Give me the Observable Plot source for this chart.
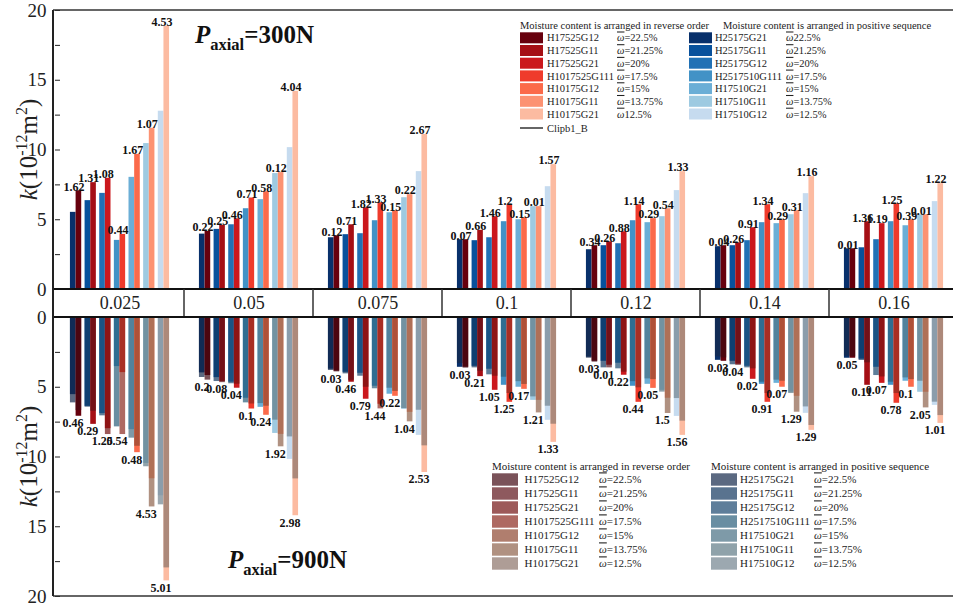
<!DOCTYPE html>
<html>
<head>
<meta charset="utf-8">
<script src="https://cdn.jsdelivr.net/npm/d3@7"></script>
<script src="https://cdn.jsdelivr.net/npm/@observablehq/plot@0.6"></script>
<style>
  html, body { margin: 0; background: #fff; overflow: hidden; }
  #chart { width: 953px; }
  #chart svg { display: block; overflow: visible; }
</style>
</head>
<body>
<div id="chart"></div>
<script>
// Loading ranges (shared category axis)
const ranges = ["0.025", "0.05", "0.075", "0.1", "0.12", "0.14", "0.16"];

// Specimens
const reverseNames = ["H17525G12", "H17525G11", "H17525G21", "H1017525G111", "H10175G12", "H10175G11", "H10175G21"];
const positiveNames = ["H25175G21", "H25175G11", "H25175G12", "H2517510G111", "H17510G21", "H17510G11", "H17510G12"];
const moisture300Reverse = ["=22.5%", "=21.25%", "=20%", "=17.5%", "=15%", "=13.75%", "12.5%"];
const moisture300Positive = ["22.5%", "21.25%", "=20%", "=17.5%", "=15%", "=13.75%", "=12.5%"];
const moisture900 = ["=22.5%", "=21.25%", "=20%", "=17.5%", "=15%", "=13.75%", "=12.5%"];

// Permeability k (1e-12 m^2), one row per range, seven specimens per row
const kBlue300 = [
  [5.53, 6.37, 6.89, 3.52, 8.04, 10.46, 12.78],
  [3.97, 4.31, 4.64, 5.79, 6.44, 8.31, 10.17],
  [3.71, 3.93, 4.00, 4.93, 5.50, 6.58, 8.45],
  [3.57, 3.50, 3.71, 4.86, 5.00, 5.94, 7.37],
  [2.85, 3.14, 3.28, 4.93, 4.79, 5.22, 7.09],
  [3.07, 3.14, 3.50, 4.79, 4.72, 5.36, 6.87],
  [2.92, 2.99, 3.57, 4.86, 4.57, 5.36, 6.30]
];
const kRed300 = [
  [7.08, 7.66, 7.97, 3.95, 9.69, 11.56, 18.88],
  [4.16, 4.60, 5.07, 6.56, 7.01, 8.38, 14.21],
  [3.85, 4.64, 5.86, 6.22, 5.65, 6.80, 11.11],
  [3.57, 4.24, 5.22, 6.08, 5.15, 5.94, 8.95],
  [3.14, 3.42, 4.14, 6.08, 5.08, 5.79, 8.45],
  [3.14, 3.35, 4.43, 6.08, 5.00, 5.65, 8.09],
  [2.92, 4.86, 4.72, 6.15, 5.00, 5.36, 7.59]
];
const kBlue900 = [
  [6.12, 6.43, 7.05, 7.84, 8.65, 10.70, 13.43],
  [4.30, 4.59, 4.75, 6.12, 6.17, 7.36, 8.56],
  [3.80, 4.04, 4.21, 5.11, 5.07, 6.53, 6.65],
  [3.30, 3.61, 4.11, 4.28, 4.60, 5.69, 6.36],
  [2.92, 3.61, 3.68, 4.60, 4.40, 5.35, 5.81],
  [2.82, 3.39, 3.61, 4.64, 4.49, 5.45, 6.41],
  [2.77, 3.08, 4.16, 4.64, 4.33, 4.57, 6.07]
];
const kRed900 = [
  [6.67, 6.72, 8.39, 8.39, 9.23, 13.58, 17.95],
  [4.49, 4.67, 4.78, 6.20, 6.36, 9.27, 11.57],
  [3.90, 4.50, 5.00, 6.55, 5.30, 7.48, 9.20],
  [3.63, 3.85, 4.21, 5.45, 4.80, 6.84, 7.65],
  [3.20, 3.61, 3.92, 5.04, 4.45, 6.88, 7.43],
  [2.90, 3.43, 3.68, 5.45, 4.57, 6.79, 7.74],
  [2.82, 3.25, 4.26, 5.45, 4.45, 6.48, 7.03]
];

// Printed differences between the paired specimens
const gap300 = [
  [1.62, 1.31, 1.08, 0.44, 1.67, 1.07, 4.53],
  [0.22, 0.25, 0.46, 0.71, 0.58, 0.12, 4.04],
  [0.12, 0.71, 1.82, 1.33, 0.15, 0.22, 2.67],
  [0.07, 0.66, 1.46, 1.2, 0.15, 0.01, 1.57],
  [0.34, 0.26, 0.88, 1.14, 0.29, 0.54, 1.33],
  [0.04, 0.26, 0.91, 1.34, 0.29, 0.31, 1.16],
  [0.01, 1.36, 1.19, 1.25, 0.39, 0.01, 1.22]
];
const gap900 = [
  [0.46, 0.29, 1.25, 0.54, 0.48, 4.53, 5.01],
  [0.2, 0.08, 0.04, 0.1, 0.24, 1.92, 2.98],
  [0.03, 0.46, 0.79, 1.44, 0.22, 1.04, 2.53],
  [0.03, 0.21, 1.05, 1.25, 0.17, 1.21, 1.33],
  [0.03, 0.01, 0.22, 0.44, 0.05, 1.5, 1.56],
  [0.03, 0.04, 0.02, 0.91, 0.07, 1.29, 1.29],
  [0.05, 0.11, 0.07, 0.78, 0.1, 2.05, 1.01]
];

// Palettes
const reds = ["#67000d", "#a50f15", "#cb181d", "#ef3b2c", "#fb6a4a", "#fc9272", "#fcbba1"];
const blues = ["#08306b", "#08519c", "#2171b5", "#4292c6", "#6baed6", "#9ecae1", "#c6dbef"];
const reds900 = ["#410812", "#5e1319", "#741313", "#8b2a1f", "#8e4730", "#8e634c", "#8b7469"];
const blues900 = ["#162a4c", "#133860", "#19476f", "#2a5e7a", "#476f83", "#607a86", "#72838e"];
const overlayOpacity = 0.7;

// Layout
const W = 953, left = 53, right = 960;
const pairInner = 0.23, pairOuter = 1.02;
const bandW = (right - left) / ranges.length;
const pairStep = bandW / (7 - pairInner + 2 * pairOuter);
const half = pairStep * (1 - pairInner) / 2;
const serif = "'Liberation Serif', 'Times New Roman', serif";

const rows = ranges.flatMap((r, i) => d3.range(7).map(j => ({
  range: r, pair: j,
  b300: kBlue300[i][j], r300: kRed300[i][j],
  b900: kBlue900[i][j], r900: kRed900[i][j],
  g300: gap300[i][j], g900: gap900[i][j]
})));

const common = {
  width: W,
  marginLeft: left,
  marginRight: W - right,
  style: {fontFamily: serif, fontSize: "18px", color: "#222", background: "transparent", overflow: "visible"},
  x: {domain: d3.range(7), paddingInner: pairInner, paddingOuter: pairOuter, axis: null, round: false},
  color: {type: "identity"}
};

// 300 N panel
const topPlot = Plot.plot({
  ...common,
  height: 316,
  marginTop: 10,
  marginBottom: 27,
  fx: {domain: ranges, padding: 0, label: null},
  y: {domain: [0, 20], label: null},
  marks: [
    Plot.barY(rows, {fx: "range", x: "pair", y1: 0, y2: "b300", fill: d => blues[d.pair], insetRight: half}),
    Plot.barY(rows, {fx: "range", x: "pair", y1: 0, y2: "r300", fill: d => reds[d.pair], insetLeft: half}),
    Plot.text(rows, {fx: "range", x: "pair", y: d => Math.max(d.b300, d.r300), text: d => String(d.g300),
      dy: -4, dx: -2, fontSize: 12, fontWeight: "bold", fill: "#111"}),
    Plot.axisY({ticks: [0, 5, 10, 15, 20], tickSize: 0, tickPadding: 9, fontSize: 19, label: null}),
    Plot.axisY({ticks: d3.range(0, 20.01, 2.5), tickSize: -5, tickFormat: () => "", label: null}),
    Plot.axisFx({anchor: "bottom", tickSize: 0, tickPadding: 7, fontSize: 18, label: null})
  ]
});

// 900 N panel (values grow downward)
const bottomPlot = Plot.plot({
  ...common,
  height: 289,
  marginTop: 1,
  marginBottom: 9,
  fx: {domain: ranges, padding: 0, label: null, axis: null},
  y: {domain: [0, 20], reverse: true, label: null},
  marks: [
    Plot.barY(rows, {fx: "range", x: "pair", y1: 0, y2: "b300", fill: d => blues[d.pair], insetRight: half}),
    Plot.barY(rows, {fx: "range", x: "pair", y1: 0, y2: "b900", fill: d => blues900[d.pair], fillOpacity: overlayOpacity, insetRight: half}),
    Plot.barY(rows, {fx: "range", x: "pair", y1: 0, y2: "r300", fill: d => reds[d.pair], insetLeft: half}),
    Plot.barY(rows, {fx: "range", x: "pair", y1: 0, y2: "r900", fill: d => reds900[d.pair], fillOpacity: overlayOpacity, insetLeft: half}),
    Plot.text(rows, {fx: "range", x: "pair", y: d => Math.max(d.b300, d.r300, d.b900, d.r900), text: d => String(d.g900),
      dy: 7, dx: -3, fontSize: 12, fontWeight: "bold", fill: "#111"}),
    Plot.axisY({ticks: [0, 5, 10, 15, 20], tickSize: 0, tickPadding: 9, fontSize: 19, label: null}),
    Plot.axisY({ticks: d3.range(0, 20.01, 2.5), tickSize: -5, tickFormat: () => "", label: null})
  ]
});

const chart = document.getElementById("chart");
chart.append(topPlot, bottomPlot);

function line(sel, x1, y1, x2, y2, stroke, w) {
  sel.append("line").attr("x1", x1).attr("y1", y1).attr("x2", x2).attr("y2", y2)
    .attr("stroke", stroke).attr("stroke-width", w);
}

function yLabel(svg, cx, cy) {
  const t = d3.select(svg).append("text")
    .attr("transform", `translate(${cx},${cy}) rotate(-90)`)
    .attr("text-anchor", "middle").attr("font-family", serif)
    .attr("font-size", 25).attr("fill", "#222");
  t.append("tspan").attr("font-style", "italic").text("k");
  t.append("tspan").text("(10");
  t.append("tspan").attr("font-size", 16).attr("dy", -10).text("-12");
  t.append("tspan").attr("dy", 10).text("m");
  t.append("tspan").attr("font-size", 16).attr("dy", -10).text("2");
  t.append("tspan").attr("dy", 10).text(")");
}

function title(svg, x, y, load) {
  const t = d3.select(svg).append("text").attr("x", x).attr("y", y).attr("text-anchor", "start")
    .attr("font-family", serif).attr("font-weight", "bold").attr("font-size", 25).attr("fill", "#111");
  t.append("tspan").attr("font-style", "italic").text("P");
  t.append("tspan").attr("font-size", 16.5).attr("dy", 7).text("axial");
  t.append("tspan").attr("dy", -7).text("=" + load);
}

function legendColumn(svg, o) {
  const g = d3.select(svg).append("g").attr("font-family", serif).attr("font-size", o.fontSize)
    .attr("fill", "#222").attr("text-anchor", "start");
  g.append("text").attr("x", o.headerX).attr("y", o.headerY).text(o.header);
  o.names.forEach((name, i) => {
    const cy = o.rowY + i * o.pitch;
    g.append("rect").attr("x", o.swX).attr("y", cy - o.swH / 2).attr("width", o.swW).attr("height", o.swH)
      .attr("fill", o.fills[i]).attr("fill-opacity", o.opacity);
    g.append("text").attr("x", o.nameX).attr("y", cy + o.fontSize * 0.35).text(name);
    const w = g.append("text").attr("x", o.omegaX).attr("y", cy + o.fontSize * 0.35);
    w.append("tspan").attr("text-decoration", "overline").attr("font-style", "italic").text("ω");
    w.append("tspan").text(o.moist[i]);
  });
}

// Frame and category band
{
  const svg = d3.select(topPlot);
  const fx = topPlot.scale("fx");
  const y = topPlot.scale("y");
  const g = svg.append("g");
  line(g, left, y.apply(20), W, y.apply(20), "#333", 1.5);
  line(g, left, y.apply(0), W, y.apply(0), "#111", 2);
  line(g, left, y.apply(20), left, 316, "#222", 2);
  ranges.slice(1).forEach(r => line(g, fx.apply(r), y.apply(0), fx.apply(r), 316, "#333", 1.5));
  yLabel(topPlot, 37, (y.apply(0) + y.apply(20)) / 2);
  title(topPlot, 195, 43, "300N");
  const base = {fontSize: 10.5, rowY: 37.8, pitch: 12.7, swW: 23, swH: 11, headerY: 29};
  legendColumn(topPlot, {...base, header: "Moisture content is arranged in reverse order", headerX: 520,
    swX: 520, nameX: 547, omegaX: 617, names: reverseNames, moist: moisture300Reverse, fills: reds, opacity: 1});
  legendColumn(topPlot, {...base, header: "Moisture content is arranged in positive sequence", headerX: 723,
    swX: 689, nameX: 715, omegaX: 786, names: positiveNames, moist: moisture300Positive, fills: blues, opacity: 1});
  const cg = svg.append("g").attr("font-family", serif).attr("font-size", 10.5).attr("fill", "#222").attr("text-anchor", "start");
  line(cg, 520, 128, 543, 128, "#666", 2);
  cg.append("text").attr("x", 547).attr("y", 131.7).text("Clipb1_B");
}
{
  const svg = d3.select(bottomPlot);
  const y = bottomPlot.scale("y");
  const g = svg.append("g");
  line(g, left, y.apply(0), W, y.apply(0), "#111", 2);
  line(g, left, y.apply(20), W, y.apply(20), "#333", 1.5);
  line(g, left, 0, left, y.apply(20), "#222", 2);
  yLabel(bottomPlot, 37, (y.apply(0) + y.apply(20)) / 2);
  title(bottomPlot, 228, 252, "900N");
  const base = {fontSize: 11, rowY: 163.5, pitch: 14, swW: 26, swH: 12.4, headerY: 153.5};
  legendColumn(bottomPlot, {...base, header: "Moisture content is arranged in reverse order", headerX: 492,
    swX: 492, nameX: 524.5, omegaX: 599, names: reverseNames, moist: moisture900, fills: reds900, opacity: overlayOpacity});
  legendColumn(bottomPlot, {...base, header: "Moisture content is arranged in positive sequence", headerX: 711,
    swX: 711, nameX: 740, omegaX: 814, names: positiveNames, moist: moisture900, fills: blues900, opacity: overlayOpacity});
}
</script>
</body>
</html>
